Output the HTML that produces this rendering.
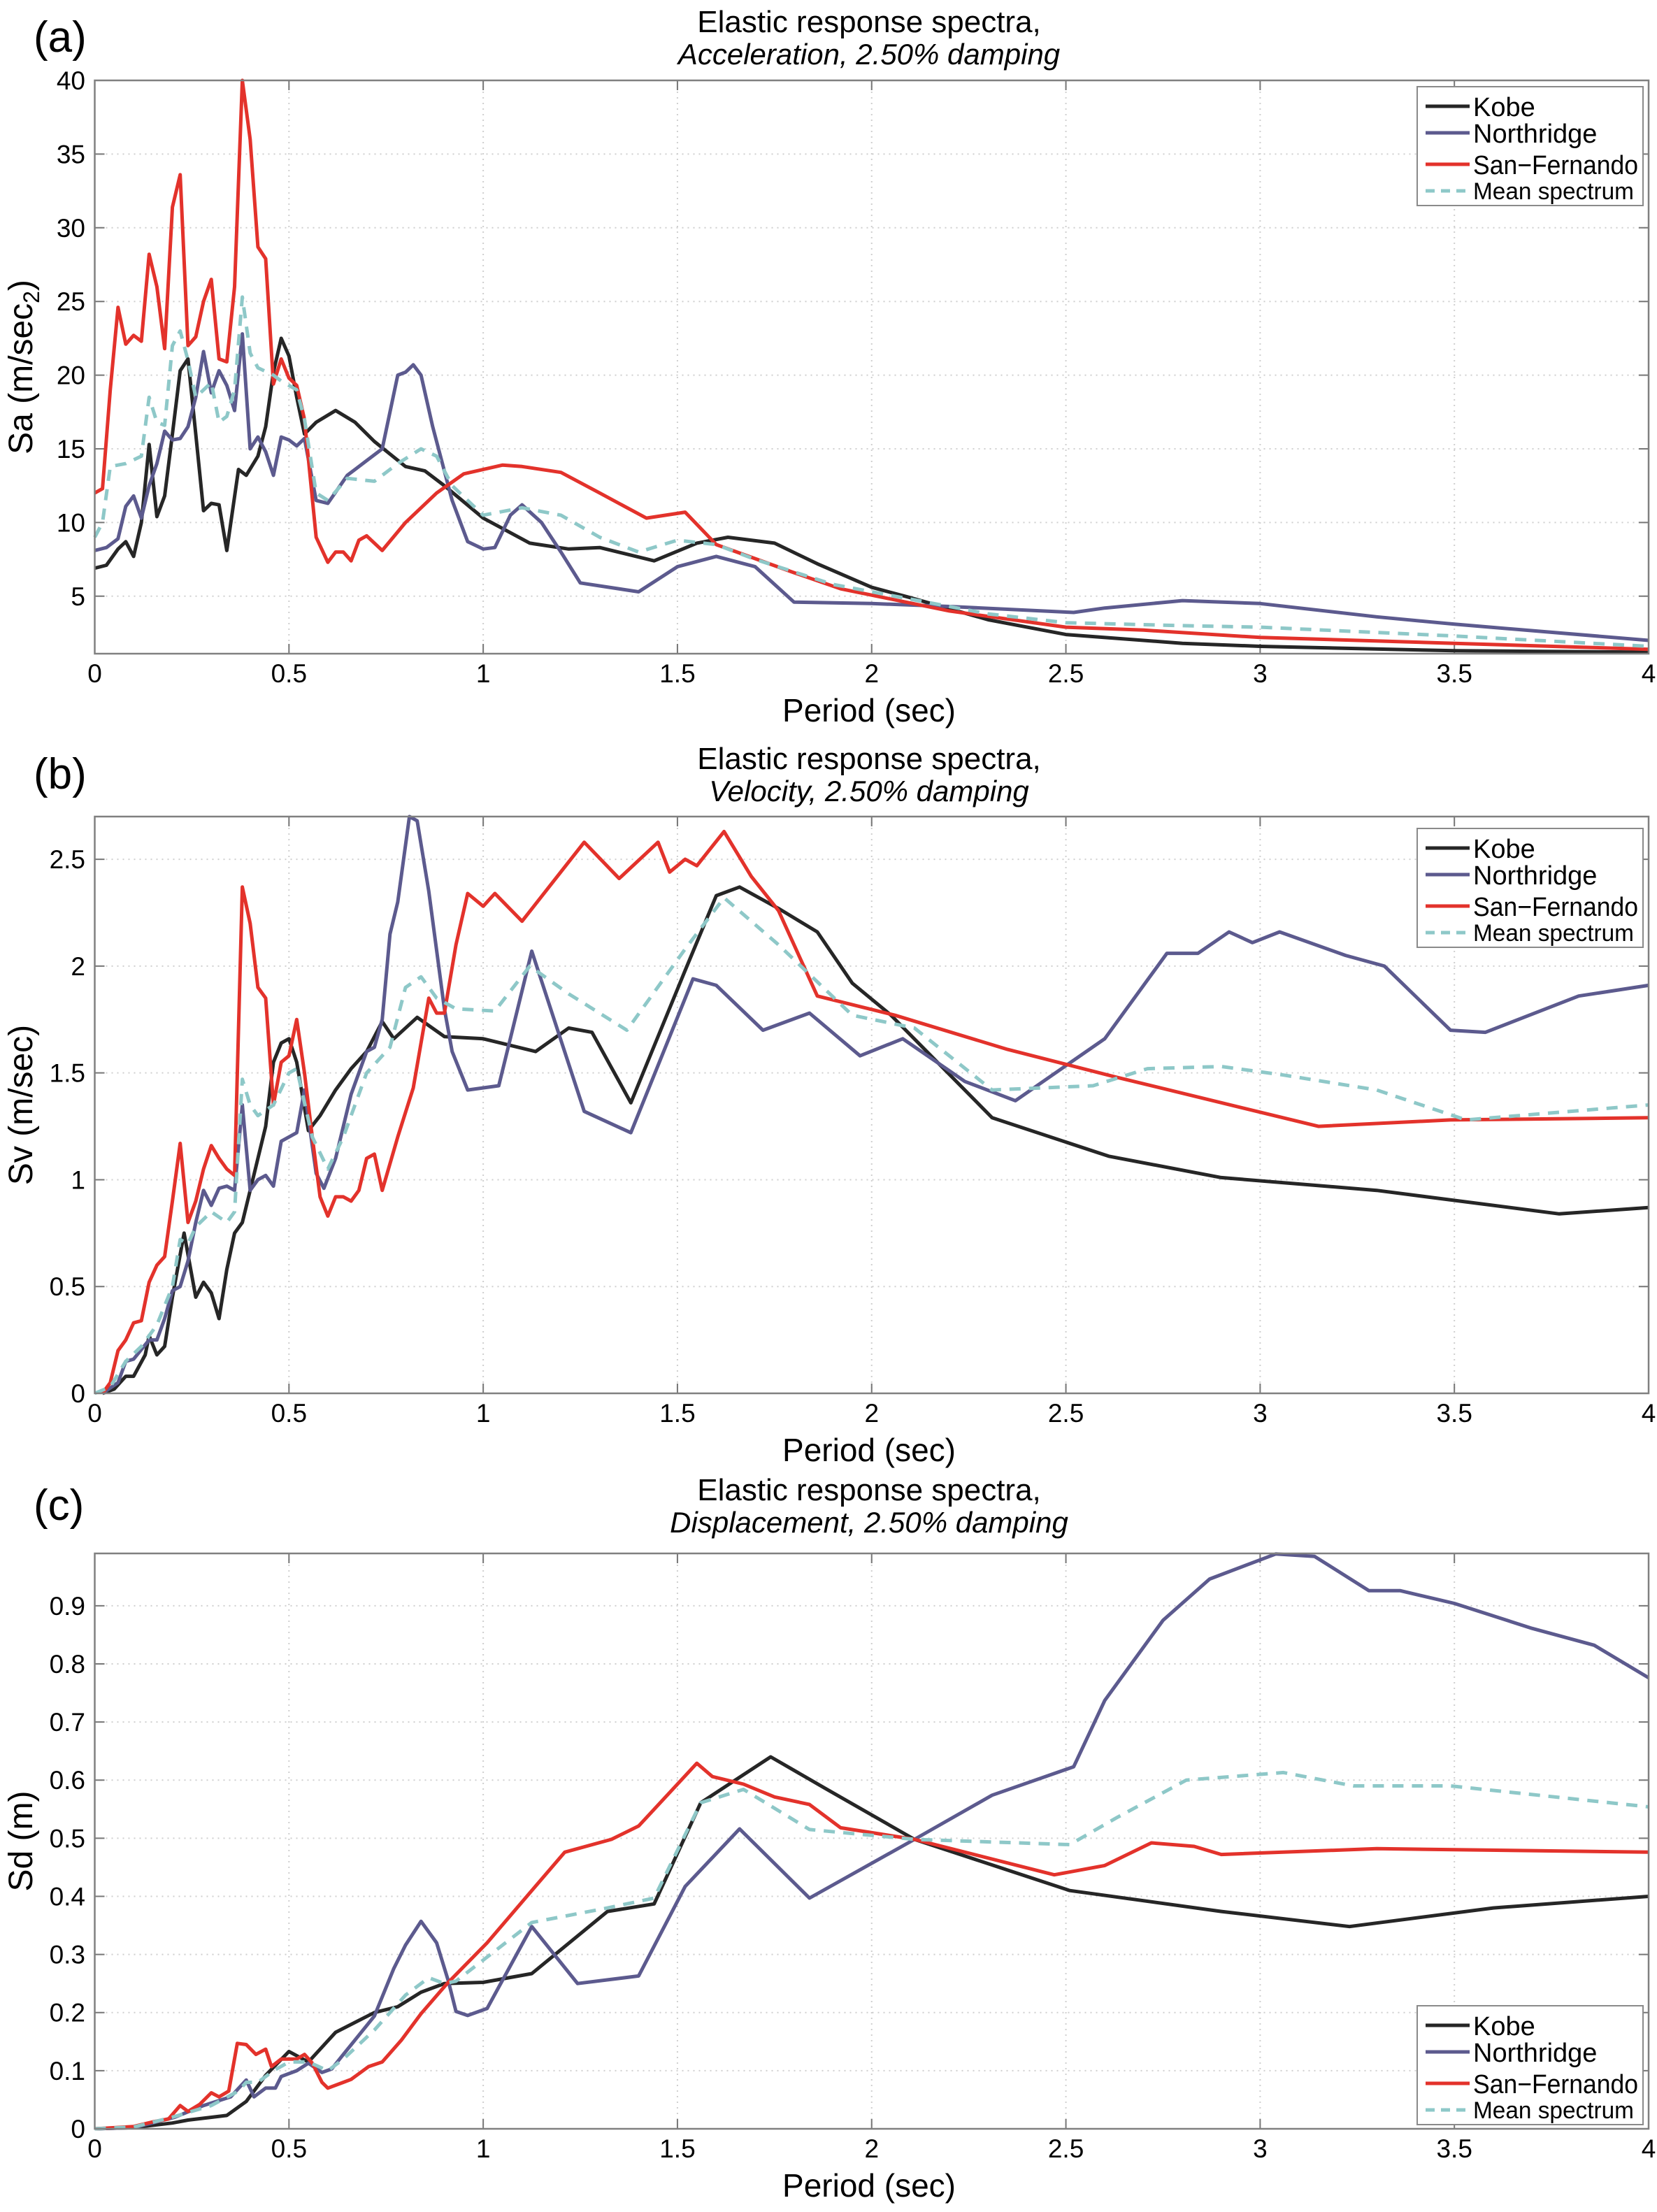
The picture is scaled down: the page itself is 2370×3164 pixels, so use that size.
<!DOCTYPE html>
<html><head><meta charset="utf-8"><style>
html,body{margin:0;padding:0;background:#fff}
svg text{font-family:"Liberation Sans",sans-serif;fill:#000}
</style></head><body>
<svg id="fig" xmlns="http://www.w3.org/2000/svg" width="2370" height="3159" viewBox="0 0 2370 3159"></svg>
<script>
// ---------- Data: panel (a) acceleration ----------
const aKobeT=[0,0.03,0.06,0.08,0.1,0.12,0.14,0.16,0.18,0.2,0.22,0.24,0.26,0.28,0.3,0.32,0.34,0.37,0.39,0.42,0.44,0.46,0.48,0.5,0.52,0.54,0.57,0.62,0.67,0.72,0.8,0.85,0.9,1.0,1.12,1.22,1.3,1.44,1.55,1.63,1.75,1.86,2.0,2.1,2.3,2.5,2.8,3.0,3.5,4.0];
const aKobeV=[6.9,7.1,8.2,8.7,7.7,10,15.3,10.4,11.8,16,20.3,21.1,16,10.8,11.3,11.2,8.1,13.6,13.2,14.5,16.5,20.2,22.5,21.3,18.5,16,16.8,17.6,16.8,15.5,13.8,13.5,12.5,10.3,8.6,8.2,8.3,7.4,8.6,9.0,8.6,7.2,5.6,4.9,3.4,2.4,1.8,1.6,1.3,1.2];
const aNorthT=[0,0.03,0.06,0.08,0.1,0.12,0.14,0.16,0.18,0.2,0.22,0.24,0.26,0.28,0.3,0.32,0.34,0.36,0.38,0.4,0.42,0.44,0.46,0.48,0.5,0.52,0.54,0.57,0.6,0.65,0.7,0.74,0.76,0.78,0.8,0.82,0.84,0.87,0.92,0.96,1.0,1.03,1.07,1.1,1.15,1.2,1.25,1.4,1.5,1.6,1.7,1.8,2.0,2.2,2.52,2.6,2.8,3.0,3.3,3.5,4.0];
const aNorthV=[8.1,8.3,8.9,11.1,11.8,10.3,12.5,14,16.2,15.6,15.7,16.5,18.5,21.6,18.8,20.3,19.3,17.6,22.8,15,15.8,14.8,13.2,15.8,15.6,15.2,15.7,11.5,11.3,13.2,14.2,15,17.5,20,20.2,20.7,20,16.5,11.5,8.7,8.2,8.3,10.5,11.2,10,8,5.9,5.3,7,7.7,7,4.6,4.5,4.3,3.9,4.2,4.7,4.5,3.6,3.1,2.0];
const aSanT=[0,0.02,0.04,0.06,0.08,0.1,0.12,0.14,0.16,0.18,0.2,0.22,0.24,0.26,0.28,0.3,0.32,0.34,0.36,0.38,0.4,0.42,0.44,0.46,0.48,0.5,0.52,0.54,0.57,0.6,0.62,0.64,0.66,0.68,0.7,0.74,0.8,0.88,0.95,1.05,1.1,1.2,1.3,1.42,1.52,1.6,1.8,1.92,2.2,2.5,2.7,3.0,3.5,4.0];
const aSanV=[12,12.3,19,24.6,22.1,22.7,22.3,28.2,26,21.8,31.4,33.6,22,22.6,25,26.5,21.1,20.9,26,40,36,28.7,27.9,19.4,21.1,19.8,19.3,17,9,7.3,8,8,7.4,8.8,9.1,8.1,10,12,13.3,13.9,13.8,13.4,12,10.3,10.7,8.5,6.6,5.5,4.0,2.9,2.7,2.2,1.8,1.4];
const aMeanT=[0,0.02,0.04,0.08,0.12,0.14,0.16,0.18,0.2,0.22,0.24,0.26,0.28,0.3,0.32,0.34,0.36,0.38,0.4,0.42,0.46,0.48,0.52,0.54,0.57,0.6,0.65,0.72,0.78,0.84,0.88,0.92,1.0,1.1,1.2,1.3,1.4,1.5,1.6,1.7,1.9,2.1,2.3,2.5,2.8,3.0,3.5,4.0];
const aMeanV=[9,10,13.8,14,14.5,18.5,16.8,16.6,22,23,21,18.5,19,19.5,16.8,17.2,19,25.3,21.5,20.5,20,19.6,19,17,12,11.5,13,12.8,14,15,14.5,12.5,10.5,11,10.5,9,8,8.8,8.5,7.5,5.8,4.8,3.8,3.2,3.0,2.9,2.3,1.6];
// ---------- Data: panel (b) velocity ----------
const bKobeT=[0.02,0.05,0.08,0.1,0.13,0.14,0.16,0.18,0.2,0.23,0.26,0.28,0.3,0.32,0.34,0.36,0.38,0.4,0.44,0.46,0.48,0.5,0.52,0.55,0.58,0.62,0.66,0.7,0.74,0.77,0.83,0.9,1.0,1.135,1.22,1.28,1.38,1.52,1.6,1.66,1.76,1.86,1.95,2.05,2.31,2.61,2.9,3.3,3.77,4.0];
const bKobeV=[0,0.02,0.08,0.08,0.18,0.27,0.18,0.22,0.45,0.75,0.45,0.52,0.47,0.35,0.58,0.75,0.8,0.95,1.25,1.55,1.64,1.66,1.55,1.23,1.3,1.42,1.52,1.6,1.74,1.66,1.76,1.67,1.66,1.6,1.71,1.69,1.36,1.98,2.33,2.37,2.27,2.16,1.92,1.77,1.29,1.11,1.01,0.95,0.84,0.87];
const bNorthT=[0.02,0.06,0.08,0.1,0.14,0.16,0.18,0.2,0.22,0.24,0.26,0.28,0.3,0.32,0.34,0.36,0.38,0.4,0.42,0.44,0.46,0.48,0.5,0.52,0.54,0.57,0.59,0.62,0.66,0.7,0.72,0.74,0.76,0.78,0.81,0.83,0.86,0.9,0.92,0.96,1.04,1.125,1.26,1.38,1.54,1.6,1.72,1.84,1.97,2.08,2.24,2.37,2.6,2.76,2.84,2.92,2.98,3.05,3.22,3.32,3.49,3.58,3.82,4.0];
const bNorthV=[0,0.05,0.15,0.16,0.25,0.25,0.35,0.48,0.5,0.62,0.8,0.95,0.88,0.96,0.97,0.95,1.35,0.95,1.0,1.02,0.97,1.18,1.2,1.22,1.42,1.03,0.96,1.1,1.4,1.6,1.62,1.75,2.15,2.3,2.7,2.68,2.35,1.8,1.6,1.42,1.44,2.07,1.32,1.22,1.94,1.91,1.7,1.78,1.58,1.66,1.46,1.37,1.66,2.06,2.06,2.16,2.11,2.16,2.05,2.0,1.7,1.69,1.86,1.91];
const bSanT=[0.02,0.04,0.06,0.08,0.1,0.12,0.14,0.16,0.18,0.2,0.22,0.24,0.26,0.28,0.3,0.32,0.34,0.36,0.38,0.4,0.42,0.44,0.46,0.48,0.5,0.52,0.54,0.56,0.58,0.6,0.62,0.64,0.66,0.68,0.7,0.72,0.74,0.78,0.82,0.86,0.88,0.9,0.93,0.96,1.0,1.03,1.1,1.26,1.35,1.45,1.48,1.52,1.55,1.62,1.69,1.76,1.86,2.06,2.35,2.63,3.15,3.49,4.0];
const bSanV=[0,0.05,0.2,0.25,0.33,0.34,0.52,0.6,0.64,0.9,1.17,0.8,0.9,1.05,1.16,1.1,1.05,1.02,2.37,2.2,1.9,1.85,1.35,1.55,1.58,1.75,1.5,1.2,0.92,0.83,0.92,0.92,0.9,0.95,1.1,1.12,0.95,1.2,1.43,1.85,1.78,1.78,2.1,2.34,2.28,2.34,2.21,2.58,2.41,2.58,2.44,2.5,2.47,2.63,2.42,2.26,1.86,1.77,1.61,1.48,1.25,1.28,1.29];
const bMeanT=[0,0.04,0.08,0.12,0.16,0.2,0.22,0.24,0.26,0.3,0.34,0.36,0.38,0.4,0.42,0.46,0.5,0.52,0.56,0.6,0.64,0.7,0.76,0.8,0.84,0.88,0.93,1.03,1.12,1.22,1.37,1.52,1.62,1.76,1.95,2.11,2.31,2.57,2.71,2.9,3.06,3.3,3.53,4.0];
const bMeanV=[0,0.03,0.15,0.22,0.32,0.5,0.72,0.7,0.78,0.85,0.8,0.85,1.47,1.35,1.3,1.35,1.5,1.52,1.2,1.05,1.2,1.5,1.62,1.9,1.95,1.85,1.8,1.79,2.0,1.87,1.7,2.08,2.32,2.1,1.77,1.71,1.42,1.44,1.52,1.53,1.49,1.42,1.28,1.35];
// ---------- Data: panel (c) displacement ----------
const cKobeT=[0,0.1,0.2,0.24,0.34,0.39,0.44,0.5,0.55,0.62,0.72,0.78,0.84,0.9,1.0,1.125,1.32,1.44,1.56,1.74,1.88,2.11,2.51,2.9,3.23,3.6,4.0];
const cKobeV=[0,0.002,0.01,0.015,0.023,0.047,0.092,0.133,0.115,0.166,0.2,0.21,0.235,0.25,0.252,0.267,0.374,0.387,0.561,0.64,0.586,0.498,0.41,0.374,0.348,0.38,0.4];
const cNorthT=[0,0.1,0.206,0.28,0.35,0.39,0.41,0.44,0.465,0.48,0.52,0.55,0.585,0.61,0.64,0.72,0.77,0.8,0.84,0.88,0.91,0.93,0.96,1.01,1.125,1.243,1.4,1.52,1.66,1.84,2.11,2.31,2.52,2.6,2.75,2.87,3.04,3.14,3.28,3.36,3.5,3.7,3.86,4.0];
const cNorthV=[0,0.002,0.02,0.04,0.055,0.084,0.055,0.07,0.07,0.09,0.1,0.113,0.097,0.103,0.128,0.194,0.276,0.316,0.357,0.32,0.255,0.202,0.195,0.207,0.348,0.25,0.263,0.417,0.516,0.397,0.498,0.574,0.623,0.737,0.875,0.946,0.989,0.985,0.926,0.926,0.904,0.861,0.832,0.776];
const cSanT=[0,0.1,0.15,0.19,0.22,0.24,0.27,0.3,0.32,0.345,0.367,0.39,0.415,0.44,0.455,0.48,0.52,0.54,0.56,0.585,0.6,0.64,0.66,0.705,0.74,0.79,0.84,0.907,1.01,1.125,1.21,1.33,1.4,1.55,1.59,1.67,1.75,1.84,1.92,2.11,2.47,2.6,2.72,2.83,2.9,3.3,4.0];
const cSanV=[0,0.004,0.012,0.017,0.04,0.03,0.042,0.062,0.055,0.065,0.147,0.145,0.128,0.137,0.107,0.12,0.12,0.128,0.113,0.08,0.07,0.08,0.085,0.107,0.115,0.153,0.198,0.25,0.32,0.41,0.476,0.498,0.521,0.629,0.606,0.593,0.571,0.558,0.518,0.498,0.437,0.453,0.492,0.486,0.472,0.482,0.476];
const cMeanT=[0,0.1,0.2,0.3,0.37,0.39,0.42,0.46,0.5,0.55,0.6,0.64,0.72,0.8,0.86,0.9,0.93,1.125,1.32,1.44,1.56,1.67,1.84,2.11,2.51,2.63,2.81,3.06,3.24,3.49,4.0];
const cMeanV=[0,0.003,0.02,0.04,0.065,0.08,0.08,0.1,0.115,0.115,0.1,0.12,0.17,0.23,0.26,0.25,0.254,0.355,0.38,0.397,0.561,0.584,0.515,0.498,0.489,0.535,0.6,0.613,0.59,0.59,0.554];
// ---------- Axis ticks ----------
const xTicks=[0,0.5,1,1.5,2,2.5,3,3.5,4];
const xTickLabels=["0","0.5","1","1.5","2","2.5","3","3.5","4"];
const aYTicks=[5,10,15,20,25,30,35,40];
const bYTicks=[0,0.5,1,1.5,2,2.5];
const bYTickLabels=["0","0.5","1","1.5","2","2.5"];
const cYTicks=[0,0.1,0.2,0.3,0.4,0.5,0.6,0.7,0.8,0.9];
const cYTickLabels=["0","0.1","0.2","0.3","0.4","0.5","0.6","0.7","0.8","0.9"];
const seriesNames=["Kobe","Northridge","San\u2212Fernando","Mean spectrum"];

const NS="http://www.w3.org/2000/svg";
const svg=document.getElementById('fig');
function mk(tag,attrs,parent){const e=document.createElementNS(NS,tag);for(const k in attrs)e.setAttribute(k,attrs[k]);(parent||svg).appendChild(e);return e;}
const L=135.5,R=2358;
const colors=["#262626","#5c5a8e","#e3322b","#8ec8c8"];
const widths=[5,5,5,5];
const dashes=["","","","16,12"];
const keys=["kobe","northridge","san-fernando","mean-spectrum"];

function panel(id,top,bottom,ymin,ymax,yTicks,yLabels,series,ylabelText,titleLine2,letter,dy,legendTop){
  const g=mk('g',{});
  
  
  const xs=t=>L+(t-0)/(4-0)*(R-L);
  const ys=v=>bottom-(v-ymin)/(ymax-ymin)*(bottom-top);
  xTicks.forEach((t,i)=>{
    if(i>0&&i<xTicks.length-1){const gl=mk('line',{x1:xs(t),x2:xs(t),y1:top,y2:bottom,stroke:'#cfcfcf','stroke-width':2,'stroke-dasharray':'2,6'},g);
    }
    const tk=mk('path',{d:`M${xs(t)},${bottom}v-14M${xs(t)},${top}v14`,stroke:'#777','stroke-width':2},g);
    
    const tx=mk('text',{x:xs(t),y:bottom+41,'font-size':37,'text-anchor':'middle'},g);tx.textContent=xTickLabels[i];
    
  });
  yTicks.forEach((v,i)=>{
    const gl=mk('line',{x1:L,x2:R,y1:ys(v),y2:ys(v),stroke:'#cfcfcf','stroke-width':2,'stroke-dasharray':'2,6'},g);
    
    const tk=mk('path',{d:`M${L},${ys(v)}h14M${R},${ys(v)}h-14`,stroke:'#777','stroke-width':2},g);
    
    const tx=mk('text',{x:122,y:ys(v)+13,'font-size':37,'text-anchor':'end'},g);tx.textContent=yLabels[i];
    
  });
  series.forEach((s,k)=>{
    const d=s[0].map((t,i)=>(i?'L':'M')+xs(t).toFixed(1)+','+ys(s[1][i]).toFixed(1)).join('');
    const p=mk('path',{d:d,fill:'none',stroke:colors[k],'stroke-width':widths[k],'stroke-linejoin':'round'},g);
    if(dashes[k])p.setAttribute('stroke-dasharray',dashes[k]);
    
    
  });
  const box=mk('rect',{x:L,y:top,width:R-L,height:bottom-top,fill:'none',stroke:'#808080','stroke-width':2.5},g);
  
  const t1=mk('text',{x:1243,y:46+dy,'font-size':44,'text-anchor':'middle'},g);t1.textContent='Elastic response spectra,';
  
  const t2=mk('text',{x:1243,y:92+dy,'font-size':42,'text-anchor':'middle','font-style':'italic'},g);t2.textContent=titleLine2;
  
  const lt=mk('text',{x:48,y:74+dy,'font-size':62},g);lt.textContent=letter;
  
  const xl=mk('text',{x:1243,y:bottom+97,'font-size':46,'text-anchor':'middle'},g);xl.textContent='Period (sec)';
  
  const cy=(top+bottom)/2;
  const yl=mk('text',{x:0,y:0,'font-size':48,'text-anchor':'middle',transform:`translate(46,${cy}) rotate(-90)`},g);
  yl.innerHTML=ylabelText;
  
  const lg=mk('g',{},g);
  
  const lb=mk('rect',{x:2027,y:legendTop,width:323,height:170,fill:'#fff',stroke:'#8a8a8a','stroke-width':2},lg);
  
  const rowY=[28,66,111,149];
  const textLens=[0,0,236,230];
  seriesNames.forEach((n,k)=>{
    const y=legendTop+rowY[k];
    const ln=mk('line',{x1:2039,x2:2102,y1:y,y2:y,stroke:colors[k],'stroke-width':widths[k]},lg);
    if(dashes[k])ln.setAttribute('stroke-dasharray','13,9');
    
    const tx=mk('text',{x:2107,y:y+(k==3?12:14),'font-size':(k==3?34:38)},lg);tx.textContent=n;
    if(textLens[k]){tx.setAttribute('textLength',textLens[k]);tx.setAttribute('lengthAdjust','spacingAndGlyphs');}
    
  });
}
panel('acceleration',115,935,1.1,40,aYTicks,aYTicks.map(String),
  [[aKobeT,aKobeV],[aNorthT,aNorthV],[aSanT,aSanV],[aMeanT,aMeanV]],
  'Sa (m/sec<tspan font-size="32" dy="10">2</tspan><tspan dy="-10">)</tspan>','Acceleration, 2.50% damping','(a)',0,124);
panel('velocity',1168,1993,0,2.7,bYTicks,bYTickLabels,
  [[bKobeT,bKobeV],[bNorthT,bNorthV],[bSanT,bSanV],[bMeanT,bMeanV]],
  'Sv (m/sec)','Velocity, 2.50% damping','(b)',1054,1185);
panel('displacement',2222,3045,0,0.99,cYTicks,cYTickLabels,
  [[cKobeT,cKobeV],[cNorthT,cNorthV],[cSanT,cSanV],[cMeanT,cMeanV]],
  'Sd (m)','Displacement, 2.50% damping','(c)',2100,2869);
</script>
</body></html>
